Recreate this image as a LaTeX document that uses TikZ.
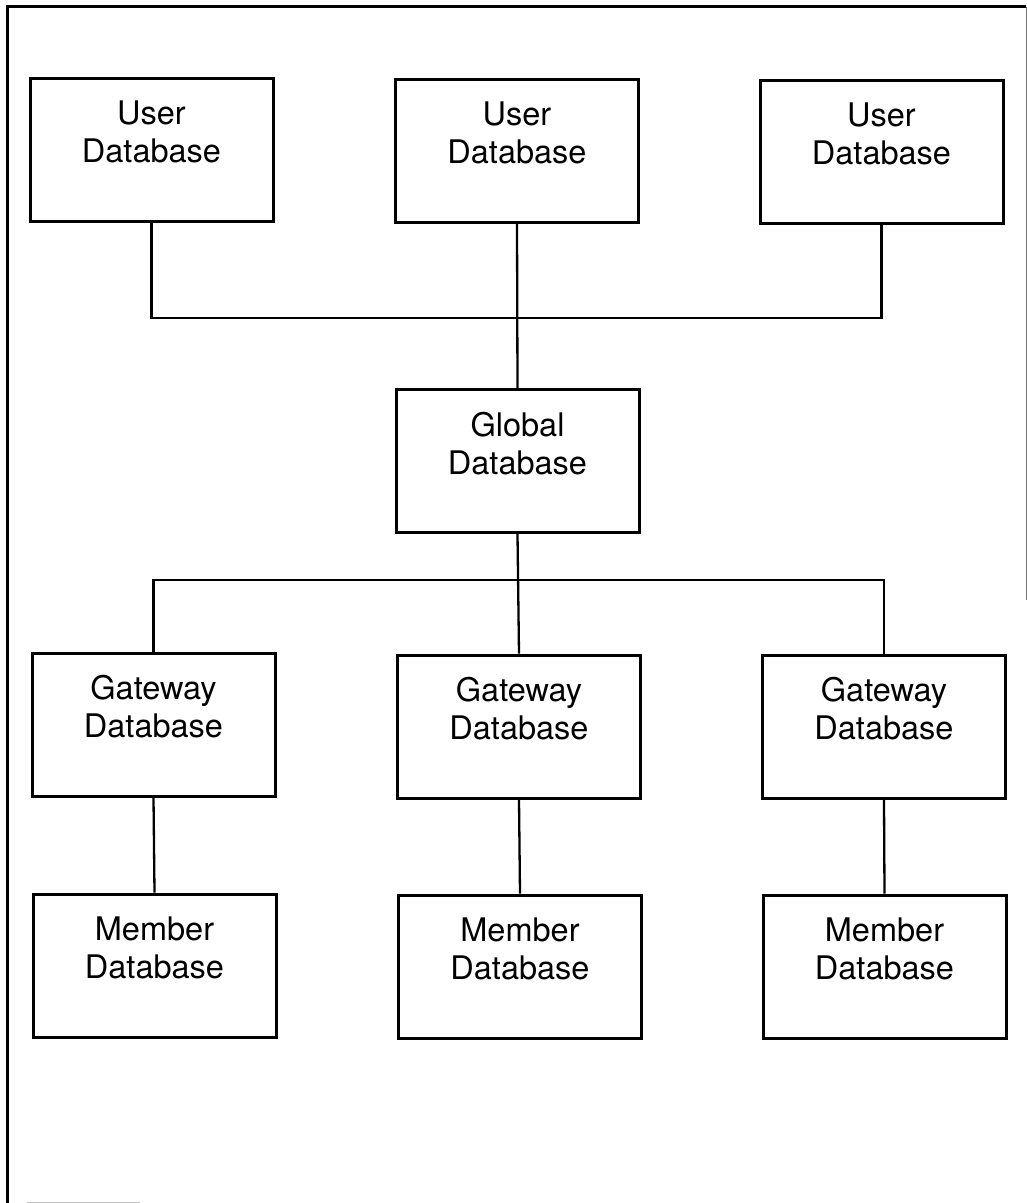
\documentclass[tikz,border=0pt]{standalone}
\usepackage{fontspec}
\setmainfont{TeX Gyre Heros}
\begin{document}
\begin{tikzpicture}[x=1pt,y=-1pt,
  dbbox/.style={draw, line width=3pt, minimum width=243pt, minimum height=143pt, inner sep=0pt},
  dbtext/.style={align=center, font=\fontsize{32.5}{38}\selectfont, inner sep=0pt, anchor=north},
  wire/.style={line width=2.3pt}]
\useasboundingbox (0,0) rectangle (1027,1203);

% page frame
\draw[line width=2.8pt] (7.5,1203) -- (7.5,6.5) -- (1026,6.5);
\draw[line width=1pt, black!55] (1026,6.5) -- (1026,600);
\draw[line width=1pt, black!25] (27,1202) -- (140,1202);

% user databases
\node[dbbox] (u1) at (151.5,150) {};
\node[dbbox] (u2) at (517,151) {};
\node[dbbox] (u3) at (881.5,152) {};
% global database
\node[dbbox] (g) at (517.5,461) {};
% gateway databases
\node[dbbox] (w1) at (153.5,724.5) {};
\node[dbbox] (w2) at (519,726.5) {};
\node[dbbox] (w3) at (884,726.5) {};
% member databases
\node[dbbox] (m1) at (154.5,965.5) {};
\node[dbbox] (m2) at (520,966.5) {};
\node[dbbox] (m3) at (884.5,966.5) {};

% labels
\foreach \b in {u1,u2,u3}
  \node[dbtext] (\b t) at ([yshift=-24pt]\b.north) {User\\Database};
\node[dbtext] (gt) at ([yshift=-24pt]g.north) {Global\\Database};
\foreach \b in {w1,w2,w3}
  \node[dbtext] (\b t) at ([yshift=-24pt]\b.north) {Gateway\\Database};
\foreach \b in {m1,m2,m3}
  \node[dbtext] (\b t) at ([yshift=-24pt]\b.north) {Member\\Database};

% connectors
\coordinate (busU) at (517,318);
\coordinate (busL) at (518,580);
\draw[wire] (u1.south) |- (busU) -| (u3.south);
\draw[wire] (u2.south) -- (g.north);
\draw[wire] (w1.north) |- (busL) -| (w3.north);
\draw[wire] (g.south) -- (w2.north);
\foreach \i in {1,2,3}
  \draw[wire] (w\i.south) -- (m\i.north);
\end{tikzpicture}
\end{document}
